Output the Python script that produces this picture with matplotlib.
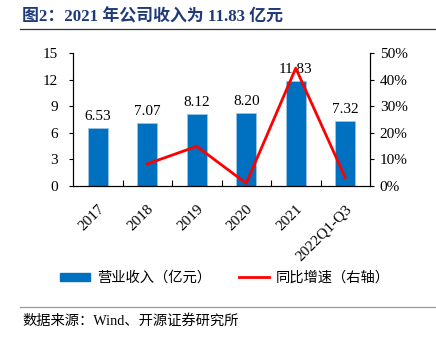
import numpy as np
import matplotlib

matplotlib.use("Agg")
import matplotlib.pyplot as plt
from matplotlib.lines import Line2D
from matplotlib.patches import Patch

plt.rcParams["font.family"] = ["Liberation Serif", "Noto Sans CJK SC", "DejaVu Sans"]

# data
categories = ["2017", "2018", "2019", "2020", "2021", "2022Q1-Q3"]
revenue = [6.53, 7.07, 8.12, 8.20, 11.83, 7.32]
growth_cats = ["2018", "2019", "2020", "2021", "2022Q1-Q3"]
growth = [8.3, 14.9, 1.0, 44.3, 3.2]

BLUE = "#0070C0"
RED = "#FF0000"
NAVY = "#1F3A7A"

fig = plt.figure(figsize=(4.36, 3.37), dpi=100)
ax = fig.add_axes([73 / 436, 1 - 186 / 337, 297 / 436, 133 / 337])
ax2 = ax.twinx()

x = np.arange(len(categories))
ax.bar(x, revenue, width=0.41, color=BLUE, edgecolor="#9DC3E6", linewidth=0.6, zorder=2)
for xi, v in zip(x, revenue):
    ax.text(xi, v + 0.6, f"{v:.2f}", ha="center", va="bottom", fontsize=11)

gx = [categories.index(c) for c in growth_cats]
ax2.plot(gx, growth, color=RED, linewidth=2, zorder=3)

ax.set_xlim(-0.5, len(categories) - 0.5)
ax.set_ylim(0, 15)
ax.set_yticks(np.arange(0, 16, 3))
ax2.set_ylim(0, 50)
ax2.set_yticks(np.arange(0, 51, 10))
ax2.set_yticklabels([f"{t}%" for t in range(0, 51, 10)])

ax.set_xticks(x)
ax.set_xticklabels(categories, rotation=45, ha="right", rotation_mode="anchor")
ax.tick_params(axis="x", length=0, labelsize=11, pad=12)
ax.set_xticks(np.arange(0.5, len(categories) - 0.5, 1), minor=True)
ax.tick_params(axis="x", which="minor", direction="in", length=4, width=0.8)
ax.tick_params(axis="y", direction="out", length=3, labelsize=11, pad=8)
ax2.tick_params(axis="y", direction="out", length=3, labelsize=11, pad=4)

for a in (ax, ax2):
    a.spines["top"].set_visible(False)
    for s in ("left", "right", "bottom"):
        a.spines[s].set_linewidth(0.8)
ax.set_zorder(ax2.get_zorder() - 1)
ax.patch.set_visible(True)
ax2.patch.set_visible(False)

handles = [
    Patch(facecolor=BLUE, edgecolor=BLUE),
    Line2D([0], [0], color=RED, linewidth=2),
]
fig.legend(handles, ["营业收入（亿元）", "同比增速（右轴）"], loc="center",
           bbox_to_anchor=(225 / 436, 1 - 278 / 337), ncol=2, frameon=False,
           fontsize=10.3, handlelength=2.1, handleheight=0.55, columnspacing=2.0,
           handletextpad=0.45)

fig.text(22 / 436, 1 - 17 / 337, "图2：2021 年公司收入为 11.83 亿元", fontsize=12.2,
         fontweight="bold", color=NAVY, va="center", ha="left")
fig.add_artist(Line2D([20 / 436, 1], [1 - 29 / 337] * 2, color="#333333", linewidth=0.9))
fig.add_artist(Line2D([20 / 436, 1], [1 - 307 / 337] * 2, color="#999999", linewidth=0.9))
fig.text(22 / 436, 1 - 321 / 337, "数据来源：Wind、开源证券研究所", fontsize=10.3,
         va="center", ha="left")

fig.savefig("out.png", dpi=100)
